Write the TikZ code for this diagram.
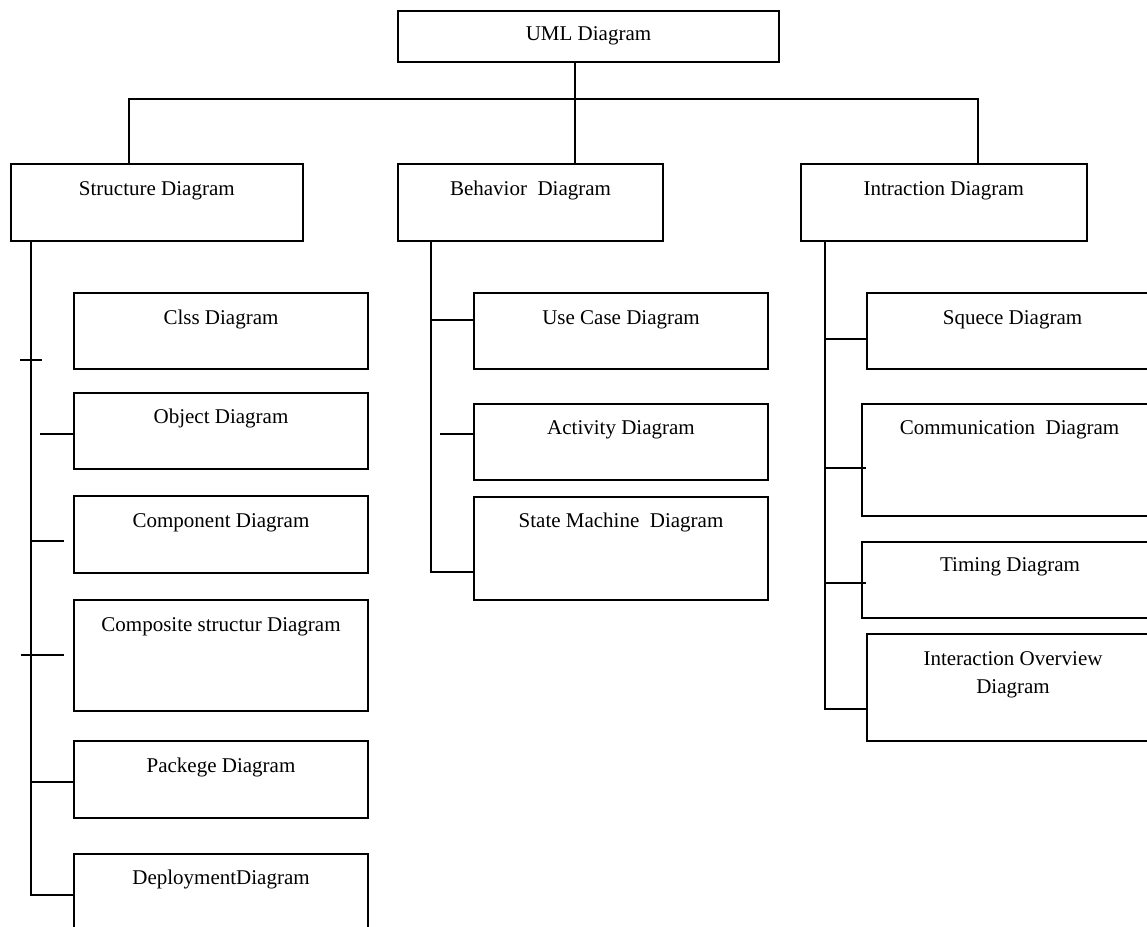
\documentclass[tikz,border=0pt]{standalone}
\usepackage{fontspec}
\setmainfont{Liberation Serif}
\usetikzlibrary{calc}
\begin{document}
\begin{tikzpicture}[x=1pt,y=-1pt,
  box/.style={draw, line width=2pt, rectangle, inner sep=0pt, anchor=north west,
    font=\fontsize{21}{28}\selectfont},
  wire/.style={draw, line width=2pt}]
\useasboundingbox (0,0) rectangle (1147,926);
\clip (0,0) rectangle (1147,926);

% root
\node[box, minimum width=381pt, text height=29pt, text depth=22.3pt] (uml) at (397,10) {UML Diagram};

% three main families
\node[box, minimum width=292.4pt, text height=31.5pt, text depth=45.2pt] (str) at (9.6,163.3) {Structure Diagram};
\node[box, minimum width=265pt, text height=31.5pt, text depth=45.2pt] (beh) at (397,163.3) {Behavior\ \ Diagram};
\node[box, minimum width=286.5pt, text height=31.5pt, text depth=45.2pt] (int) at (799.5,163.3) {Intraction Diagram};

% structure diagrams
\node[box, minimum width=294pt, text height=31pt, text depth=45pt] (cls) at (73,292) {Clss Diagram};
\node[box, minimum width=294pt, text height=30pt, text depth=46pt] (obj) at (73,392) {Object Diagram};
\node[box, minimum width=294pt, text height=31pt, text depth=46pt] (cmp) at (73,495) {Component Diagram};
\node[box, minimum width=294pt, text height=31pt, text depth=80pt] (cst) at (73,599) {Composite structur Diagram};
\node[box, minimum width=294pt, text height=31pt, text depth=46pt] (pkg) at (73,740) {Packege Diagram};
\node[box, minimum width=294pt, text height=30pt, text depth=60pt] (dep) at (73,853) {DeploymentDiagram};

% behavior diagrams
\node[box, minimum width=294pt, text height=31pt, text depth=45pt] (use) at (473,292) {Use Case Diagram};
\node[box, minimum width=294pt, text height=30pt, text depth=46pt] (act) at (473,403) {Activity Diagram};
\node[box, minimum width=294pt, text height=30pt, text depth=73pt] (stm) at (473,496) {State Machine\ \ Diagram};

% interaction diagrams
\node[box, minimum width=291pt, text height=31pt, text depth=45pt] (sqc) at (866,292) {Squece Diagram};
\node[box, minimum width=295pt, text height=30pt, text depth=82pt] (com) at (861,403) {Communication\ \ Diagram};
\node[box, minimum width=296pt, text height=29pt, text depth=47pt] (tim) at (861,541) {Timing Diagram};
\node[box, minimum width=292pt, text height=31pt, text depth=76pt] (ovw) at (866,633)
  {\begin{tabular}[t]{@{}c@{}}Interaction Overview\\Diagram\end{tabular}};

% root to families
\coordinate (c0) at ($(uml.south)+(-13.5,0)$);
\path[wire] (c0) -- (c0 |- beh.north);
\coordinate (busL) at ($(str.north)+(-27.5,-64.3)$);
\coordinate (busR) at ($(int.north)+(34,-64.3)$);
\path[wire] (busL |- str.north) -- (busL) -- (busR) -- (busR |- int.north);

% structure branch
\coordinate (sS) at ($(str.south west)+(21.4,0)$);
\coordinate (dS) at ($(dep.north west)+(0,42)$);
\path[wire] (sS) -- (sS |- dS) -- (dS);
\coordinate (k1a) at ($(cls.north west)+(-53,68)$);
\coordinate (k1b) at ($(cls.north west)+(-31,68)$);
\path[wire] (k1a) -- (k1b);
\coordinate (k2a) at ($(obj.north west)+(-33,42)$);
\path[wire] (k2a) -- (k2a -| obj.west);
\coordinate (k3) at ($(cmp.north west)+(-9,46)$);
\path[wire] (sS |- k3) -- (k3);
\coordinate (k4a) at ($(cst.north west)+(-52,56)$);
\coordinate (k4b) at ($(cst.north west)+(-9,56)$);
\path[wire] (k4a) -- (k4b);
\coordinate (k5) at ($(pkg.north west)+(0,42)$);
\path[wire] (sS |- k5) -- (k5);

% behavior branch
\coordinate (sB) at ($(beh.south west)+(33.5,0)$);
\coordinate (b3) at ($(stm.north west)+(0,76)$);
\path[wire] (sB) -- (sB |- b3) -- (b3);
\coordinate (b1) at ($(use.north west)+(0,28)$);
\path[wire] (sB |- b1) -- (b1);
\coordinate (b2) at ($(act.north west)+(-33,31)$);
\path[wire] (b2) -- (b2 -| act.west);

% interaction branch
\coordinate (sI) at ($(int.south west)+(25,0)$);
\coordinate (i4) at ($(ovw.north west)+(0,76)$);
\path[wire] (sI) -- (sI |- i4) -- (i4);
\coordinate (i1) at ($(sqc.north west)+(0,47)$);
\path[wire] (sI |- i1) -- (i1);
\coordinate (i2) at ($(com.north west)+(5,65)$);
\path[wire] (sI |- i2) -- (i2);
\coordinate (i3) at ($(tim.north west)+(5,42)$);
\path[wire] (sI |- i3) -- (i3);
\end{tikzpicture}
\end{document}
